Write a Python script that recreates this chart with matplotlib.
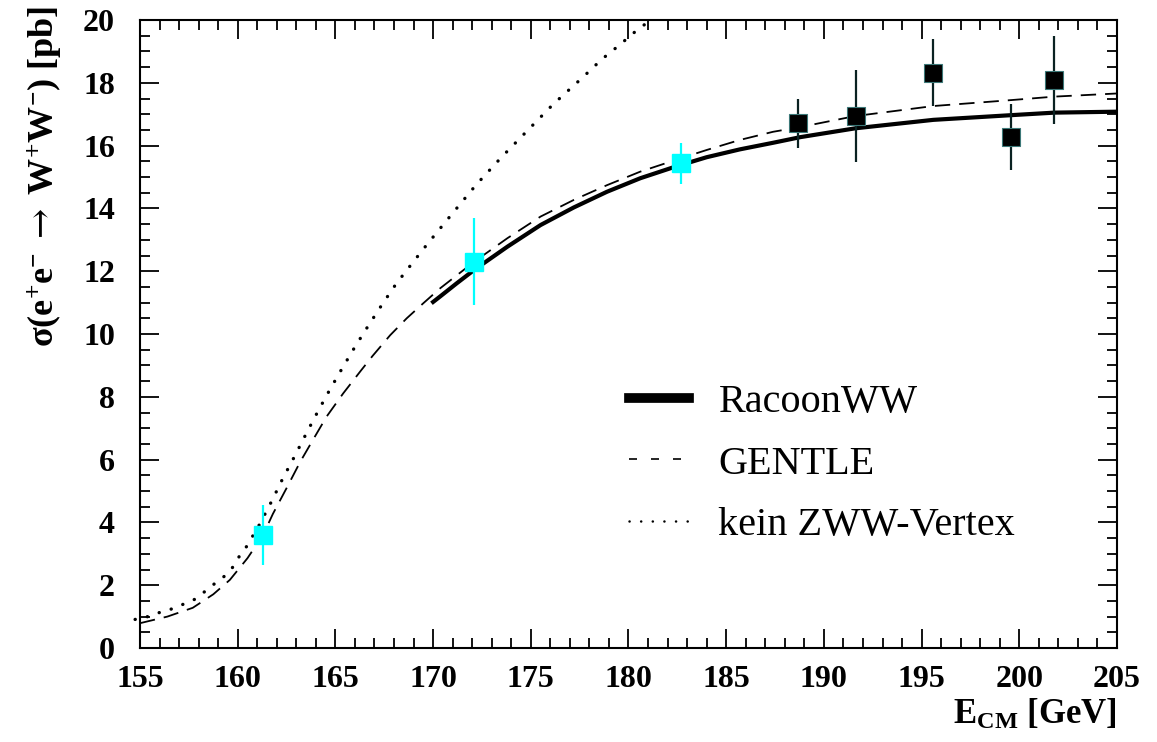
import matplotlib
matplotlib.use("Agg")
import matplotlib.pyplot as plt
from matplotlib.lines import Line2D
from matplotlib.ticker import MultipleLocator

plt.rcParams['font.family'] = ['Liberation Serif', 'DejaVu Serif']
plt.rcParams['mathtext.fontset'] = 'custom'
plt.rcParams['mathtext.rm'] = 'Liberation Serif'
plt.rcParams['mathtext.bf'] = 'Liberation Serif:bold'
plt.rcParams['mathtext.it'] = 'Liberation Serif:italic'
plt.rcParams['mathtext.sf'] = 'DejaVu Serif'

# measured cross sections: LEP 161-183 GeV (cyan) and 189-202 GeV (black)
e_low = [161.3, 172.1, 182.7]
sig_low = [3.6, 12.3, 15.43]
err_low = [0.95, 1.38, 0.65]

e_high = [188.65, 191.64, 195.57, 199.55, 201.77]
sig_high = [16.71, 16.95, 18.32, 16.26, 18.09]
err_high = [0.78, 1.47, 1.07, 1.05, 1.40]

# theory predictions
racoon_e = [170.0, 170.35, 171.2, 172.1, 173.8, 175.5, 177.2, 178.9, 180.6,
            182.3, 184.0, 185.7, 187.4, 188.8, 191.6, 195.6, 199.6, 201.8,
            205.0]
racoon_s = [11.02, 11.19, 11.61, 12.04, 12.78, 13.47, 14.03, 14.53, 14.96,
            15.31, 15.63, 15.88, 16.09, 16.27, 16.55, 16.82, 16.97, 17.05,
            17.08]

gentle_e = [155.0, 156.4, 157.7, 158.75, 159.6, 160.5, 161.3, 161.8, 162.5,
            163.2, 163.9, 164.55, 165.4, 166.3, 166.9, 167.8, 168.65, 169.5,
            170.35, 172.1, 173.8, 175.5, 177.2, 178.9, 180.6, 182.3, 184.0,
            185.7, 187.4, 188.7, 191.6, 195.6, 199.6, 201.8, 205.0]
gentle_s = [0.79, 1.0, 1.28, 1.71, 2.17, 2.86, 3.6, 4.27, 5.09, 5.93, 6.68,
            7.37, 8.11, 8.83, 9.3, 9.96, 10.5, 10.98, 11.45, 12.3, 13.05,
            13.74, 14.27, 14.74, 15.17, 15.52, 15.86, 16.18, 16.44, 16.58,
            16.94, 17.26, 17.45, 17.56, 17.66]

nozww_e = [154.75, 155.4, 156.0, 156.6, 157.2, 157.8, 158.3, 158.8, 159.35,
           159.8, 160.1, 160.5, 160.8, 161.15, 161.75, 162.3, 162.9, 163.5,
           164.1, 164.7, 165.35, 166.0, 166.7, 167.4, 168.1, 168.9, 169.7,
           170.95, 172.2, 173.5, 174.8, 176.15, 177.6, 178.5, 179.0, 179.5,
           180.0, 180.5, 181.15]
nozww_s = [0.91, 1.0, 1.13, 1.24, 1.39, 1.55, 1.79, 2.04, 2.3, 2.61, 2.94,
           3.27, 3.6, 3.97, 4.69, 5.39, 6.09, 6.82, 7.53, 8.21, 8.91, 9.59,
           10.28, 10.95, 11.59, 12.23, 12.86, 13.81, 14.75, 15.63, 16.46,
           17.32, 18.14, 18.67, 18.94, 19.18, 19.45, 19.71, 20.0]

fig = plt.figure(figsize=(11.57, 7.42), dpi=100)
ax = fig.add_axes([140 / 1157, 1 - 648 / 742, 977 / 1157, 628 / 742])

ax.plot(nozww_e, nozww_s, color='black', lw=2.4, dashes=(0.05, 3.7),
        solid_capstyle='round', dash_capstyle='round', clip_on=False, zorder=2)
ax.plot(gentle_e, gentle_s, color='black', lw=1.3, dashes=(8.5, 5.0), zorder=2)
ax.plot(racoon_e, racoon_s, color='black', lw=3.0, zorder=3)

ax.errorbar(e_low, sig_low, yerr=err_low, fmt='s', color='#00ffff', ms=13.5,
            mec='#00ffff', elinewidth=1.6, capsize=0, zorder=4)
ax.errorbar(e_high, sig_high, yerr=err_high, fmt='s', color='black', ms=13.5,
            mec='#3c7878', mew=0.8, ecolor='#0a2222', elinewidth=1.6,
            capsize=0, zorder=4)

ax.set_xlim(155, 205)
ax.set_ylim(0, 20)
ax.xaxis.set_major_locator(MultipleLocator(5))
ax.xaxis.set_minor_locator(MultipleLocator(1))
ax.yaxis.set_major_locator(MultipleLocator(2))
ax.yaxis.set_minor_locator(MultipleLocator(0.5))
ax.tick_params(which='both', direction='in', top=True, right=True, width=1.3)
ax.tick_params(which='major', length=14)
ax.tick_params(which='minor', length=7)
ax.tick_params(axis='x', which='major', pad=12, labelsize=23)
ax.tick_params(axis='y', which='major', pad=18, labelsize=23)
for lab in ax.get_xticklabels() + ax.get_yticklabels():
    lab.set_fontweight('bold')
for sp in ax.spines.values():
    sp.set_linewidth(1.5)

fig.text(45 / 1157, 1 - 6 / 742,
         r'$\mathbf{\sigma(e^{+}e^{-}}\ \mathsf{\rightarrow}\ '
         r'\mathbf{W^{+}W^{-})\ [pb]}$',
         rotation=90, ha='center', va='top', fontsize=26)
fig.text(1117 / 1157, 1 - 724 / 742, r'$\mathbf{E_{CM}}$ [GeV]',
         ha='right', va='baseline', fontsize=25, fontweight='bold')

handles = [
    Line2D([], [], color='black', lw=7),
    Line2D([], [], color='black', lw=1.2, dashes=(4.8, 8.4)),
    Line2D([], [], color='black', lw=1.8, dashes=(0.05, 4.6),
           dash_capstyle='round'),
]
ax.legend(handles, ['RacoonWW', 'GENTLE', 'kein ZWW-Vertex'],
          loc='upper left', bbox_to_anchor=(629 / 1157, 1 - 384 / 742),
          bbox_transform=fig.transFigure, frameon=False, fontsize=29,
          handlelength=1.5, handletextpad=0.72, labelspacing=0.6,
          borderpad=0, borderaxespad=0)

fig.savefig('out.png', dpi=100)
